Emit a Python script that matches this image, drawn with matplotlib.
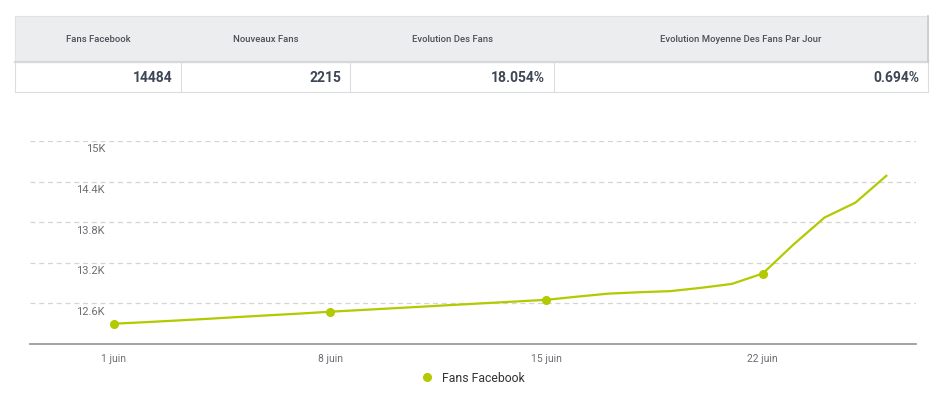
import pandas as pd
import matplotlib
matplotlib.use("Agg")
from matplotlib import pyplot as plt
from matplotlib.patches import Rectangle
from matplotlib.lines import Line2D
import matplotlib.dates as mdates
from matplotlib import font_manager

# table at the top
headers = ['Fans Facebook', 'Nouveaux Fans', 'Evolution Des Fans', 'Evolution Moyenne Des Fans Par Jour']
values = ['14484', '2215', '18.054%', '0.694%']

# daily fan count, 1 -> 26 juin
days = pd.date_range('2015-06-01', periods=26, freq='D')
fans = [12300, 12322, 12346, 12371, 12398, 12424, 12449, 12477,
        12502, 12527, 12552, 12578, 12603, 12628, 12653, 12700,
        12744, 12765, 12781, 12830, 12888, 13041, 13472, 13869,
        14089, 14486]
marker_days = [0, 7, 14, 21]
tick_days = pd.to_datetime(['2015-06-01', '2015-06-08', '2015-06-15', '2015-06-22'])
y_ticks = [12600, 13200, 13800, 14400, 15000]
y_labels = ['12.6K', '13.2K', '13.8K', '14.4K', '15K']

green = '#b3c900'
W, H = 944, 398
plt.rcParams['font.family'] = ['Roboto', 'DejaVu Sans']

# narrow font for the numbers if one is around
names = {f.name for f in font_manager.fontManager.ttflist}
narrow = [n for n in ['Liberation Sans Narrow', 'DejaVu Sans Condensed'] if n in names]
num_family = narrow + ['Roboto', 'DejaVu Sans']
num_size = 11.5 if narrow else 10

fig = plt.figure(figsize=(W / 100, H / 100), dpi=100)

# --- table drawn in pixel coordinates
tab = fig.add_axes([0, 0, 1, 1])
tab.set_xlim(0, W)
tab.set_ylim(H, 0)
tab.axis('off')
edges = [15, 181, 350, 554, 928]
tab.add_patch(Rectangle((edges[0], 16), edges[-1] - edges[0], 46, facecolor='#ebedef',
                        edgecolor='#e0e2e4', lw=0.8))
tab.add_patch(Rectangle((edges[0], 62), edges[-1] - edges[0], 30, facecolor='white',
                        edgecolor='#dcdddf', lw=0.8))
tab.plot([edges[0], edges[-1]], [62, 62], color='#d6d8da', lw=1.6)
tab.plot([edges[-1], edges[-1]], [16, 62], color='#c8cacc', lw=1.2)
for e in edges[1:-1]:
    tab.plot([e, e], [62, 92], color='#dcdddf', lw=0.8)
for i, (h, v) in enumerate(zip(headers, values)):
    x0, x1 = edges[i], edges[i + 1]
    tab.text((x0 + x1) / 2, 39, h, ha='center', va='center', fontsize=6.8,
             color='#4d5157', fontweight='medium')
    tab.text(x1 - 9, 77.5, v, ha='right', va='center', fontsize=num_size,
             color='#3d4655', fontweight='bold', fontstretch='condensed',
             family=num_family)

# --- line chart
ax = fig.add_axes([30 / W, 1 - 344 / H, 886 / W, 203 / H])
ax.plot(days, fans, color=green, lw=1.6, marker='o', markersize=5.5,
        markevery=marker_days, zorder=3)
ax.set_ylim(12000, 15000)
ax.set_xlim(days[0] - pd.Timedelta(days=2.71), days[0] + pd.Timedelta(days=25.96))

ax.set_yticks(y_ticks)
ax.set_yticklabels([])
ax.tick_params(axis='y', length=0)
ax.grid(axis='y', linestyle=(0, (4, 3)), color='#d4d4d4', lw=0.9)
for val, lab in zip(y_ticks, y_labels):
    ax.annotate(lab, xy=(75 / 886, val), xycoords=('axes fraction', 'data'),
                xytext=(0, -6), textcoords='offset points', ha='right', va='center',
                fontsize=8, color='#6b6e73')

ax.set_xticks(tick_days)
ax.xaxis.set_major_formatter(mdates.DateFormatter('%-d juin'))
ax.tick_params(axis='x', length=0, pad=7, labelsize=7.5, labelcolor='#6b6e73')

for s in ['top', 'left', 'right']:
    ax.spines[s].set_visible(False)
ax.spines['bottom'].set_color('#9a9c9f')
ax.spines['bottom'].set_linewidth(1.3)

handle = Line2D([], [], marker='o', linestyle='none', color=green, markersize=5.5)
fig.legend([handle], ['Fans Facebook'], loc='center', bbox_to_anchor=(470 / W, 1 - 378 / H),
           frameon=False, fontsize=8.8, handletextpad=0.2, labelcolor='#333333')

fig.savefig('out.png', dpi=100)
